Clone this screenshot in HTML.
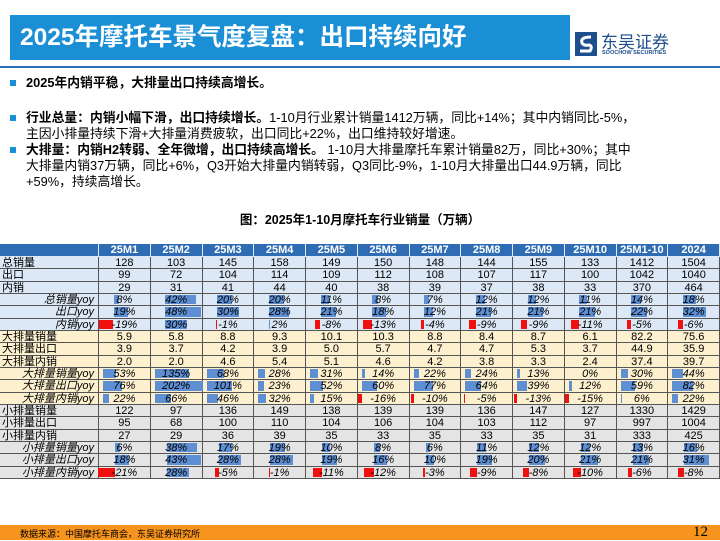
<!DOCTYPE html>
<html><head><meta charset="utf-8">
<style>
*{margin:0;padding:0;box-sizing:border-box}
body{width:720px;height:540px;overflow:hidden;background:#fff;font-family:"Liberation Sans","Noto Sans CJK SC",sans-serif;position:relative;color:#000}
.abs{position:absolute}
#title{left:10px;top:15px;width:560px;height:45px;background:#1b8fd6;color:#fff;font-weight:bold;font-size:24.5px;line-height:45px;padding-left:10px;white-space:nowrap}
#rule{left:0;top:66px;width:720px;height:2px;background:#2a6fb5}
.bul{left:10px;width:6px;height:6px;background:#1b8fd6}
.txt{left:26px;font-size:12.8px;line-height:16px;white-space:nowrap}
#caption{left:0;width:720px;top:209px;text-align:center;font-weight:bold;font-size:12.5px}
#tbl{position:absolute;left:0;top:0;width:720px;height:540px;pointer-events:none}
.c{position:absolute;border-right:1px solid #555;border-bottom:1px solid #555;font-size:11px;text-align:center;white-space:nowrap;overflow:visible;padding-top:2px;font-family:"Liberation Sans","Noto Sans CJK SC",sans-serif}
.c.lab{text-align:left;padding-left:2px}
.c.yl{text-align:right;padding-right:4px;font-style:italic}
.hd{background:#2e6db3;color:#fff;font-weight:bold;border-color:#dfe8f5}
.g1{background:#dce8f6}.g2{background:#fdf0cf}.g3{background:#e4e4e4}
.bar{position:absolute;top:1px;bottom:1px}
.v{position:relative;font-style:italic}
#footer{left:0;top:525px;width:720px;height:15px;background:#f7941d}
</style></head><body>
<div id="title" class="abs">2025年摩托车景气度复盘：出口持续向好</div>
<div class="abs" style="left:575px;top:30px;width:130px;height:30px">
<svg width="22" height="24" style="position:absolute;left:0;top:2px"><rect width="22" height="24" fill="#1f4e8c"/><path d="M16 5 Q5 5 7 11 Q9 14 14 13 Q18 14 15 19 L5 19" stroke="#fff" stroke-width="3" fill="none"/></svg>
<div style="position:absolute;left:26px;top:-2px;font-size:17px;color:#1f4e8c">东吴证券</div>
<div style="position:absolute;left:27px;top:20px;font-size:5.5px;font-weight:bold;color:#1f4e8c">SOOCHOW SECURITIES</div>
</div>
<div id="rule" class="abs"></div>

<div class="abs bul" style="top:80px"></div>
<div class="abs txt" style="top:75px;font-weight:bold">2025年内销平稳，大排量出口持续高增长。</div>
<div class="abs bul" style="top:115px"></div>
<div class="abs txt" style="top:110px"><b>行业总量：内销小幅下滑，出口持续增长。</b>1-10月行业累计销量1412万辆，同比+14%；其中内销同比-5%，<br>主因小排量持续下滑+大排量消费疲软，出口同比+22%，出口维持较好增速。</div>
<div class="abs bul" style="top:147px"></div>
<div class="abs txt" style="top:142px"><b>大排量：内销H2转弱、全年微增，出口持续高增长。</b> 1-10月大排量摩托车累计销量82万，同比+30%；其中<br>大排量内销37万辆，同比+6%，Q3开始大排量内销转弱，Q3同比-9%，1-10月大排量出口44.9万辆，同比<br>+59%，持续高增长。</div>

<div id="caption" class="abs">图：2025年1-10月摩托车行业销量（万辆）</div>
<div id="tbl"></div>

<div id="footer" class="abs">
<span style="position:absolute;left:20px;top:2px;font-size:9px">数据来源：中国摩托车商会，东吴证券研究所</span>
<span style="position:absolute;right:12px;top:-1px;font-size:15px;font-family:'Liberation Serif',serif">12</span>
</div>
<script>
const columns=["25M1","25M2","25M3","25M4","25M5","25M6","25M7","25M8","25M9","25M10","25M1-10","2024"];
const totalSales=[128,103,145,158,149,150,148,144,155,133,1412,1504];
const totalExport=[99,72,104,114,109,112,108,107,117,100,1042,1040];
const totalDomestic=[29,31,41,44,40,38,39,37,38,33,370,464];
const totalSalesYoy=[8,42,20,20,11,8,7,12,12,11,14,18];
const totalExportYoy=[19,48,30,28,21,18,12,21,21,21,22,32];
const totalDomesticYoy=[-19,30,-1,2,-8,-13,-4,-9,-9,-11,-5,-6];
const largeSales=["5.9","5.8","8.8","9.3","10.1","10.3","8.8","8.4","8.7","6.1","82.2","75.6"];
const largeExport=["3.9","3.7","4.2","3.9","5.0","5.7","4.7","4.7","5.3","3.7","44.9","35.9"];
const largeDomestic=["2.0","2.0","4.6","5.4","5.1","4.6","4.2","3.8","3.3","2.4","37.4","39.7"];
const largeSalesYoy=[53,135,68,28,31,14,22,24,13,0,30,44];
const largeExportYoy=[76,202,101,23,52,60,77,64,39,12,59,82];
const largeDomesticYoy=[22,66,46,32,15,-16,-10,-5,-13,-15,6,22];
const smallSales=[122,97,136,149,138,139,139,136,147,127,1330,1429];
const smallExport=[95,68,100,110,104,106,104,103,112,97,997,1004];
const smallDomestic=[27,29,36,39,35,33,35,33,35,31,333,425];
const smallSalesYoy=[6,38,17,19,10,8,6,11,12,12,13,16];
const smallExportYoy=[18,43,28,28,19,16,10,19,20,21,21,31];
const smallDomesticYoy=[-21,28,-5,-1,-11,-12,-3,-9,-8,-10,-6,-8];

const tbl=document.getElementById('tbl');
const T0=244,HH=13,RH=12.33,LW=99,CW=51.75;
let rIdx=0;
function cell(x,y,w,h,cls){
  const d=document.createElement('div');
  d.className='c '+cls;
  d.style.left=x+'px';d.style.top=y+'px';d.style.width=w+'px';d.style.height=h+'px';
  d.style.lineHeight=(h-4)+'px';
  tbl.appendChild(d);return d;
}
const h0=cell(0,T0,LW,HH,'hd');


columns.forEach((c,i)=>{
  const d=cell(LW+i*CW,T0,CW,HH,'hd');d.textContent=c;
  
  
});
function row(g,label,vals,yoy,grp){
  const y=T0+HH+rIdx*RH;rIdx++;
  const l=cell(0,y,LW,RH,g+(yoy?' yl':' lab'));l.textContent=label;
  
  
  vals.forEach((v,i)=>{
    const td=cell(LW+i*CW,y,CW,RH,g);
    
    
    if(yoy){
      const b=document.createElement('div');b.className='bar';
      
      
      const w=Math.abs(v)*grp.s;
      if(v<0){b.style.left=(grp.a-w)+'px';b.style.background='#f01010';}
      else{b.style.left=grp.a+'px';b.style.background='#5e8fd3';}
      b.style.width=w+'px';
      td.appendChild(b);
      const s=document.createElement('span');s.className='v';s.textContent=v+'%';
      
      
      td.appendChild(s);
    } else td.textContent=v;
  });
}
const g1={a:14.5,s:0.74},g2={a:4,s:0.25},g3={a:16,s:0.8};
row('g1','总销量',totalSales,false);
row('g1','出口',totalExport,false);
row('g1','内销',totalDomestic,false);
row('g1','总销量yoy',totalSalesYoy,true,g1);
row('g1','出口yoy',totalExportYoy,true,g1);
row('g1','内销yoy',totalDomesticYoy,true,g1);
row('g2','大排量销量',largeSales,false);
row('g2','大排量出口',largeExport,false);
row('g2','大排量内销',largeDomestic,false);
row('g2','大排量销量yoy',largeSalesYoy,true,g2);
row('g2','大排量出口yoy',largeExportYoy,true,g2);
row('g2','大排量内销yoy',largeDomesticYoy,true,g2);
row('g3','小排量销量',smallSales,false);
row('g3','小排量出口',smallExport,false);
row('g3','小排量内销',smallDomestic,false);
row('g3','小排量销量yoy',smallSalesYoy,true,g3);
row('g3','小排量出口yoy',smallExportYoy,true,g3);
row('g3','小排量内销yoy',smallDomesticYoy,true,g3);
</script>
</body></html>
